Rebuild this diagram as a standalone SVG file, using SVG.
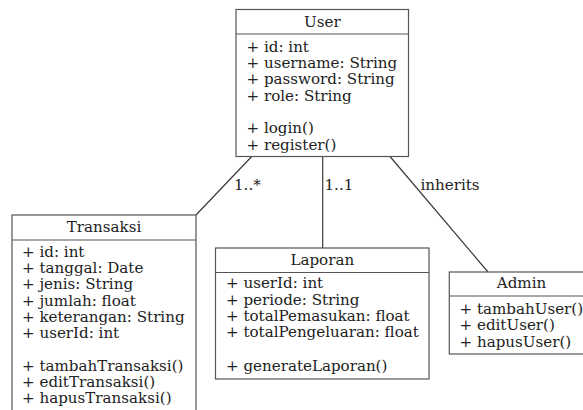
<svg xmlns="http://www.w3.org/2000/svg" width="583" height="410" viewBox="0 0 583 410">
<style>
.box{fill:#fff;stroke:#555;stroke-width:1.2}
.sep{stroke:#555;stroke-width:1.2}
.edge{stroke:#3a3a3a;stroke-width:1.2;fill:none}
text{font-family:"DejaVu Serif","Liberation Serif",serif;font-size:15.1px;fill:#222}
.t{text-anchor:middle}
</style>
<rect width="583" height="410" fill="#fff"/>
<g id="connectors">
<line class="edge" x1="251.7" y1="156.5" x2="196" y2="215"/>
<line class="edge" x1="322.7" y1="156.5" x2="322.7" y2="248"/>
<line class="edge" x1="390" y1="156.5" x2="488" y2="272"/>
<text x="234" y="190">1..*</text>
<text x="324.5" y="190">1..1</text>
<text x="420.5" y="190">inherits</text>
</g>
<g id="User">
<rect class="box" x="236" y="9.5" width="172.5" height="147"/>
<line class="sep" x1="236" y1="34" x2="408.5" y2="34"/>
<text class="t" x="322.3" y="26.5">User</text>
<text x="246.5" y="51.5">+ id: int</text>
<text x="246.5" y="67.9">+ username: String</text>
<text x="246.5" y="84.3">+ password: String</text>
<text x="246.5" y="100.7">+ role: String</text>
<text x="246.5" y="133">+ login()</text>
<text x="246.5" y="149.5">+ register()</text>
</g>
<g id="Transaksi">
<rect class="box" x="12" y="215" width="184" height="210"/>
<line class="sep" x1="12" y1="240" x2="196" y2="240"/>
<text class="t" x="104" y="231.7">Transaksi</text>
<text x="22" y="256.7">+ id: int</text>
<text x="22" y="273">+ tanggal: Date</text>
<text x="22" y="289.3">+ jenis: String</text>
<text x="22" y="305.6">+ jumlah: float</text>
<text x="22" y="321.9">+ keterangan: String</text>
<text x="22" y="338.2">+ userId: int</text>
<text x="22" y="370.8">+ tambahTransaksi()</text>
<text x="22" y="387.1">+ editTransaksi()</text>
<text x="22" y="403.4">+ hapusTransaksi()</text>
</g>
<g id="Laporan">
<rect class="box" x="215.5" y="248" width="213.5" height="131"/>
<line class="sep" x1="215.5" y1="272.5" x2="429" y2="272.5"/>
<text class="t" x="322.3" y="265">Laporan</text>
<text x="226" y="288.3">+ userId: int</text>
<text x="226" y="304.6">+ periode: String</text>
<text x="226" y="320.9">+ totalPemasukan: float</text>
<text x="226" y="337.2">+ totalPengeluaran: float</text>
<text x="226" y="371">+ generateLaporan()</text>
</g>
<g id="Admin">
<rect class="box" x="449.3" y="272" width="145" height="82"/>
<line class="sep" x1="449.3" y1="296" x2="594.3" y2="296"/>
<text class="t" x="521.5" y="288">Admin</text>
<text x="459.5" y="314">+ tambahUser()</text>
<text x="459.5" y="330.4">+ editUser()</text>
<text x="459.5" y="346.8">+ hapusUser()</text>
</g>
</svg>
